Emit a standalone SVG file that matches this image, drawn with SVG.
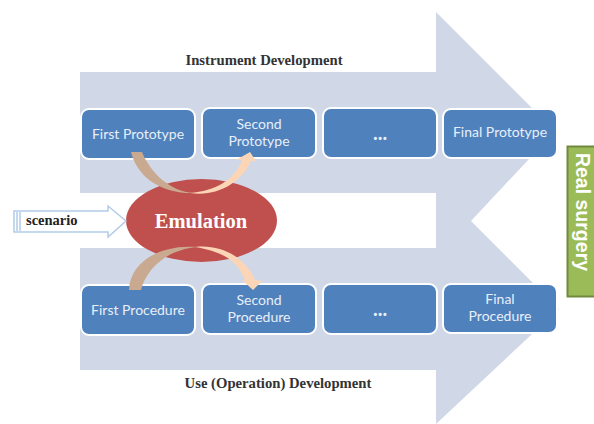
<svg xmlns="http://www.w3.org/2000/svg" width="594" height="424" viewBox="0 0 594 424">
<style>
.band{fill:#d0d8e8}
.box{fill:#4f81bd;stroke:#fff;stroke-width:2}
.lbl{font:14px Lato,"Noto Sans",sans-serif;fill:#e8eff8;text-anchor:middle}
.dots{font:bold 20px Lato,"Noto Sans",sans-serif;fill:#e8eff8;text-anchor:middle}
.cap{font:bold 14.700px "Liberation Serif",serif;fill:#333;text-anchor:middle}
</style>
<rect width="594" height="424" fill="#fff"/>
<g id="band"><path class="band" d="M80 72H436V12L556 132 530 158 471 221 530 280 559 309 530 336 436 424V370H80V248H436V193H80Z"/></g>
<text class="cap" x="264" y="65">Instrument Development</text>
<text class="cap" x="278" y="388">Use (Operation) Development</text>
<g id="first-prototype"><rect class="box" x="81" y="109" width="114" height="50" rx="8"/><text class="lbl" x="138" y="139">First Prototype</text></g>
<g id="second-prototype"><rect class="box" x="202" y="108" width="114" height="50" rx="8"/><text class="lbl" x="259" y="129">Second</text><text class="lbl" x="259" y="146">Prototype</text></g>
<g id="dots-top"><rect class="box" x="323" y="108" width="114" height="50" rx="8"/><text class="dots" x="380" y="140">...</text></g>
<g id="final-prototype"><rect class="box" x="443" y="109" width="114" height="49" rx="8"/><text class="lbl" x="500" y="137">Final Prototype</text></g>
<g id="first-procedure"><rect class="box" x="81" y="285" width="114" height="50" rx="8"/><text class="lbl" x="138" y="315">First Procedure</text></g>
<g id="second-procedure"><rect class="box" x="202" y="284" width="114" height="50" rx="8"/><text class="lbl" x="259" y="305">Second</text><text class="lbl" x="259" y="322">Procedure</text></g>
<g id="dots-bottom"><rect class="box" x="323" y="284" width="114" height="50" rx="8"/><text class="dots" x="380" y="316">...</text></g>
<g id="final-procedure"><rect class="box" x="443" y="284" width="114" height="49" rx="8"/><text class="lbl" x="500" y="304">Final</text><text class="lbl" x="500" y="321">Procedure</text></g>
<g id="emulation"><ellipse cx="201.500" cy="220.500" rx="75.500" ry="41.500" fill="#c0504d"/><text x="201" y="228" text-anchor="middle" style="font:bold 20.500px 'Liberation Serif',serif;fill:#fff">Emulation</text></g>
<g id="connectors">
<path d="M131 152H142C150 172 170 192 194 193 165 194 138 180 131 152Z" fill="#c9a98f"/>
<path d="M190 193C215 191 235 180 242 160L236 160 250 152 256 161 251 161C242 182 218 197 190 193Z" fill="#fbd5b5"/>
<path d="M129 290H141C146 270 165 250 197 247 160 244 130 262 129 290Z" fill="#c9a98f"/>
<path d="M195 247C222 244 246 258 255 280L262 281 253 290 242 280 245 280C238 262 225 252 195 247Z" fill="#fbd5b5"/>
</g>
<g id="scenario"><path d="M14 211H108V206L126 221 108 237V232H14Z" fill="#fff" stroke="#b3cbe9" stroke-width="1.5"/><path d="M17 212V231M20 212V231" stroke="#b3cbe9" stroke-width="1.500"/><text x="26" y="225" style="font:bold 14.500px 'Liberation Serif',serif;fill:#222">scenario</text></g>
<g id="real-surgery"><rect x="567.500" y="146.500" width="40" height="150" fill="#9bbb59" stroke="#71893f" stroke-width="2"/><text transform="translate(576 212) rotate(90)" text-anchor="middle" style="font:bold 19.500px 'Liberation Sans',sans-serif;fill:#fff">Real surgery</text></g>
</svg>
